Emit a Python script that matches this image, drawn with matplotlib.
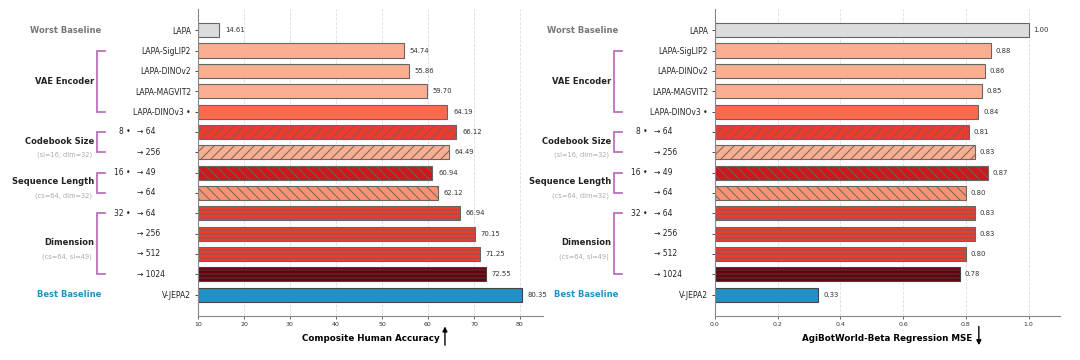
import numpy as np
import matplotlib.pyplot as plt
import matplotlib.transforms as mtransforms

# data
tick_labels = ["LAPA", "LAPA-SigLIP2", "LAPA-DINOv2", "LAPA-MAGVIT2", "LAPA-DINOv3 \u2022",
               "", "", "", "", "", "", "", "", "V-JEPA2"]
arrow_labels = ["", "", "", "", "", "\u2192 64", "\u2192 256", "\u2192 49", "\u2192 64",
                "\u2192 64", "\u2192 256", "\u2192 512", "\u2192 1024", ""]
default_marks = ["", "", "", "", "", "8 \u2022", "", "16 \u2022", "", "32 \u2022", "", "", "", ""]
accuracy = [14.61, 54.74, 55.86, 59.70, 64.19, 66.12, 64.49, 60.94, 62.12, 66.94, 70.15, 71.25, 72.55, 80.35]
mse = [1.00, 0.88, 0.86, 0.85, 0.84, 0.81, 0.83, 0.87, 0.80, 0.83, 0.83, 0.80, 0.78, 0.33]

colors = ["#dcdcdc", "#fcae91", "#fcae91", "#fcae91", "#fb6a4a", "#ef3b2c", "#fcae91",
          "#cb181d", "#fc9272", "#ef3b2c", "#ef3b2c", "#ef3b2c", "#67000d", "#2191c4"]
hatches = [None, None, None, None, None, "////", "////", "\\\\\\\\", "\\\\\\\\",
           "-----", "-----", "-----", "-----", None]

# groups: (label, subtitle, first row, last row)
groups = [("VAE Encoder", None, 1, 4), ("Codebook Size", "(sl=16, dim=32)", 5, 6),
          ("Sequence Length", "(cs=64, dim=32)", 7, 8), ("Dimension", "(cs=64, sl=49)", 9, 12)]

DPI = 120
S = 100 / DPI  # keep pixel sizes as if drawn at 100 dpi

plt.rcParams["hatch.linewidth"] = 0.7 * S
fig = plt.figure(figsize=(1080 / DPI, 360 / DPI), dpi=DPI)
ax1 = fig.add_axes([0.1833, 0.1222, 0.3194, 0.853])
ax2 = fig.add_axes([0.662, 0.1222, 0.3194, 0.853])

y = np.arange(len(accuracy))
px = 1 / 345.0  # one pixel in axes fraction (axes width ~345 px)


def draw_panel(ax, vals, xlim, ticks, fmt, xlabel, off, up):
    ax.set_axisbelow(True)
    ax.grid(axis="x", linestyle="--", color="#dddddd", linewidth=0.6 * S)
    for i, v in enumerate(vals):
        edge = "#444444" if i in (12, 13) else "#666666"
        ax.barh(y[i], v - xlim[0], left=xlim[0], height=0.7, color=colors[i],
                edgecolor=edge, linewidth=0.8 * S, hatch=hatches[i])
        ax.text(v + off, y[i], fmt.format(v), va="center", ha="left", fontsize=5 * S, color="#333333")
    ax.set_xlim(xlim)
    ax.set_ylim(14.05, -1.05)
    ax.set_xticks(ticks)
    ax.tick_params(axis="x", labelsize=4.5 * S, length=2 * S, width=0.5 * S, pad=2 * S, colors="#333333")
    ax.set_yticks(y)
    ax.set_yticklabels(tick_labels, fontsize=5.5 * S, color="#222222")
    ax.tick_params(axis="y", length=2 * S, width=0.5 * S, pad=3 * S)
    for s in ["top", "right"]:
        ax.spines[s].set_visible(False)
    for s in ["left", "bottom"]:
        ax.spines[s].set_color("#888888")
        ax.spines[s].set_linewidth(0.8 * S)
    ax.set_xlabel(xlabel, fontsize=6.3 * S, fontweight="bold", labelpad=5 * S)

    tr = mtransforms.blended_transform_factory(ax.transAxes, ax.transData)
    for i in y:
        if arrow_labels[i]:
            ax.text(-61 * px, i, arrow_labels[i], transform=tr, ha="left", va="center",
                    fontsize=5.5 * S, color="#222222")
        if default_marks[i]:
            ax.text(-67 * px, i, default_marks[i], transform=tr, ha="right", va="center",
                    fontsize=5.5 * S, color="#222222")

    # brackets and group names
    for name, sub, a, b in groups:
        ax.plot([-93 * px, -101 * px, -101 * px, -93 * px], [a, a, b, b], transform=tr,
                color="#b565b8", linewidth=1.2 * S, clip_on=False, solid_joinstyle="miter")
        mid = (a + b) / 2
        if sub:
            ax.text(-104 * px, mid - 0.05, name, transform=tr, ha="right", va="center",
                    fontsize=6 * S, fontweight="bold", color="#222222")
            ax.text(-106 * px, mid + 0.62, sub, transform=tr, ha="right", va="center",
                    fontsize=4.8 * S, color="#aaaaaa")
        else:
            ax.text(-104 * px, mid, name, transform=tr, ha="right", va="center",
                    fontsize=6 * S, fontweight="bold", color="#222222")
    ax.text(-97 * px, 0, "Worst Baseline", transform=tr, ha="right", va="center",
            fontsize=6 * S, fontweight="bold", color="#777777")
    ax.text(-97 * px, 13, "Best Baseline", transform=tr, ha="right", va="center",
            fontsize=6 * S, fontweight="bold", color="#2191c4")

    # direction arrow next to the axis title
    arrow = dict(arrowstyle="-|>", color="black", lw=1.0 * S, mutation_scale=7 * S,
                 shrinkA=0, shrinkB=0)
    if up:
        ax.annotate("", xy=(0.716, -0.034), xytext=(0.716, -0.095), xycoords="axes fraction",
                    arrowprops=arrow, annotation_clip=False)
    else:
        ax.annotate("", xy=(0.765, -0.095), xytext=(0.765, -0.034), xycoords="axes fraction",
                    arrowprops=arrow, annotation_clip=False)


draw_panel(ax1, accuracy, (10, 85), [10, 20, 30, 40, 50, 60, 70, 80], "{:.2f}",
           "Composite Human Accuracy", 1.3, True)
draw_panel(ax2, mse, (0, 1.1), [0.0, 0.2, 0.4, 0.6, 0.8, 1.0], "{:.2f}",
           "AgiBotWorld-Beta Regression MSE", 0.015, False)

fig.savefig("out.png", dpi=DPI)
